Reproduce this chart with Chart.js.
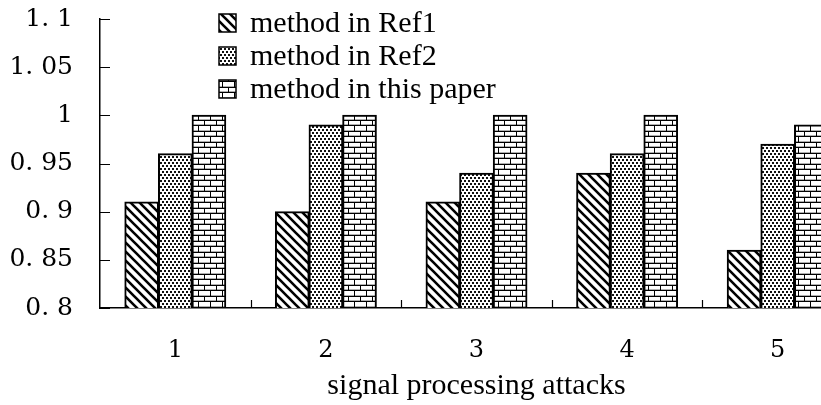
<!DOCTYPE html>
<html>
<head>
<meta charset="utf-8">
<script src="https://cdn.jsdelivr.net/npm/chart.js@4.4.1/dist/chart.umd.min.js"></script>
<style>
  html, body { margin: 0; padding: 0; background: #fff; overflow: hidden; }
  #wrap { width: 870px; height: 405px; position: relative; }
</style>
</head>
<body>
<div id="wrap"><canvas id="chart"></canvas></div>
<script>
    // dados
    const categories = ['1', '2', '3', '4', '5'];
    const seriesLabels = ['method in Ref1', 'method in Ref2', 'method in this paper'];
    const ref1Values = [0.91, 0.90, 0.91, 0.94, 0.86];
    const ref2Values = [0.96, 0.99, 0.94, 0.96, 0.97];
    const paperValues = [1.00, 1.00, 1.00, 1.00, 0.99];
    const yTickLabels = ['0. 8', '0. 85', '0. 9', '0. 95', '1', '1. 05', '1. 1'];
    const xTitle = 'signal processing attacks';

    // padrões de preenchimento (hachura, pontos, tijolos)
    function makeTile(w, h, draw) {
        const c = document.createElement('canvas');
        c.width = w; c.height = h;
        const g = c.getContext('2d');
        g.fillStyle = '#fff';
        g.fillRect(0, 0, w, h);
        draw(g);
        return document.getElementById('chart').getContext('2d').createPattern(c, 'repeat');
    }

    const hatchPattern = makeTile(9, 9, (g) => {
        g.strokeStyle = '#000';
        g.lineWidth = 2.6;
        g.beginPath();
        g.moveTo(-2, -2); g.lineTo(11, 11);
        g.moveTo(-2, 7); g.lineTo(2, 11);
        g.moveTo(7, -2); g.lineTo(11, 2);
        g.stroke();
    });

    const dotPattern = makeTile(4, 6, (g) => {
        g.fillStyle = '#111';
        g.fillRect(0, 0, 2, 2);
        g.fillRect(2, 3, 2, 2);
    });

    const brickPattern = makeTile(12, 11, (g) => {
        g.fillStyle = '#b0b0b0';
        g.fillRect(0, 3, 12, 1);
        g.fillRect(0, 9, 12, 1);
        g.fillStyle = '#000';
        g.fillRect(0, 4, 12, 1);
        g.fillRect(0, 10, 12, 1);
        g.fillRect(0, 0, 1, 4);
        g.fillRect(6, 5, 1, 5);
    });

    const patterns = [hatchPattern, dotPattern, brickPattern];

    // marcas dos eixos voltadas para dentro
    const innerTicks = {
        id: 'innerTicks',
        afterDatasetsDraw: (chart) => {
            const ctx = chart.ctx;
            const x = chart.scales.x;
            const y = chart.scales.y;
            ctx.save();
            ctx.strokeStyle = '#000';
            ctx.lineWidth = 1.2;
            ctx.beginPath();
            y.ticks.forEach((t) => {
                const py = Math.round(y.getPixelForValue(t.value)) + 0.5;
                ctx.moveTo(y.right, py);
                ctx.lineTo(y.right + 10, py);
            });
            for (let i = 0; i < categories.length - 1; i++) {
                const px = Math.round((x.getPixelForValue(i) + x.getPixelForValue(i + 1)) / 2) + 0.5;
                ctx.moveTo(px, x.top);
                ctx.lineTo(px, x.top - 8);
            }
            ctx.stroke();
            ctx.restore();
        }
    };

    // legenda desenhada à mão (lista vertical no topo)
    const boxLegend = {
        id: 'boxLegend',
        afterDraw: (chart) => {
            const ctx = chart.ctx;
            ctx.save();
            chart.data.datasets.forEach((ds, i) => {
                const cy = 23 + i * 33;
                ctx.fillStyle = ds.backgroundColor;
                ctx.fillRect(219, cy - 9, 17, 18);
                ctx.strokeStyle = '#000';
                ctx.lineWidth = 1.5;
                ctx.strokeRect(219, cy - 9, 17, 18);
                ctx.fillStyle = '#000';
                ctx.font = '30px "Liberation Serif"';
                ctx.textAlign = 'left';
                ctx.textBaseline = 'middle';
                ctx.fillText(ds.label, 250, cy + 1);
            });
            ctx.restore();
        }
    };

    const values = [ref1Values, ref2Values, paperValues];

    new Chart(document.getElementById('chart'), {
        type: 'bar',
        data: {
            labels: categories,
            datasets: values.map((v, i) => ({
                label: seriesLabels[i],
                data: v,
                backgroundColor: patterns[i],
                borderColor: '#000',
                borderWidth: 2,
                inflateAmount: 0.5,
                barPercentage: 1.0,
                categoryPercentage: 0.67
            }))
        },
        options: {
            responsive: true,
            maintainAspectRatio: false,
            animation: false,
            layout: { padding: { top: 19, right: 17, bottom: 0, left: 0 } },
            plugins: {
                legend: { display: false },
                tooltip: { enabled: false }
            },
            scales: {
                x: {
                    grid: { display: true, drawOnChartArea: false, drawTicks: false },
                    border: { display: true, color: '#000', width: 1.5 },
                    ticks: {
                        color: '#000',
                        padding: 28,
                        font: { family: '"DejaVu Serif"', size: 24 }
                    },
                    title: {
                        display: true,
                        text: xTitle,
                        color: '#000',
                        font: { family: '"Liberation Serif"', size: 30 },
                        padding: { top: 0, bottom: 1 }
                    },
                    afterFit: (scale) => { scale.height = 97; scale.paddingLeft = 0; scale.paddingRight = 0; }
                },
                y: {
                    min: 0.8,
                    max: 1.1,
                    grid: { display: true, drawOnChartArea: false, drawTicks: false },
                    border: { display: true, color: '#000', width: 1.5 },
                    ticks: {
                        stepSize: 0.05,
                        color: '#000',
                        padding: 27,
                        font: { family: '"DejaVu Serif"', size: 25 },
                        callback: (value, index) => yTickLabels[index]
                    },
                    afterFit: (scale) => { scale.width = 100; scale.paddingTop = 0; scale.paddingBottom = 0; }
                }
            }
        },
        plugins: [innerTicks, boxLegend]
    });
</script>
</body>
</html>
